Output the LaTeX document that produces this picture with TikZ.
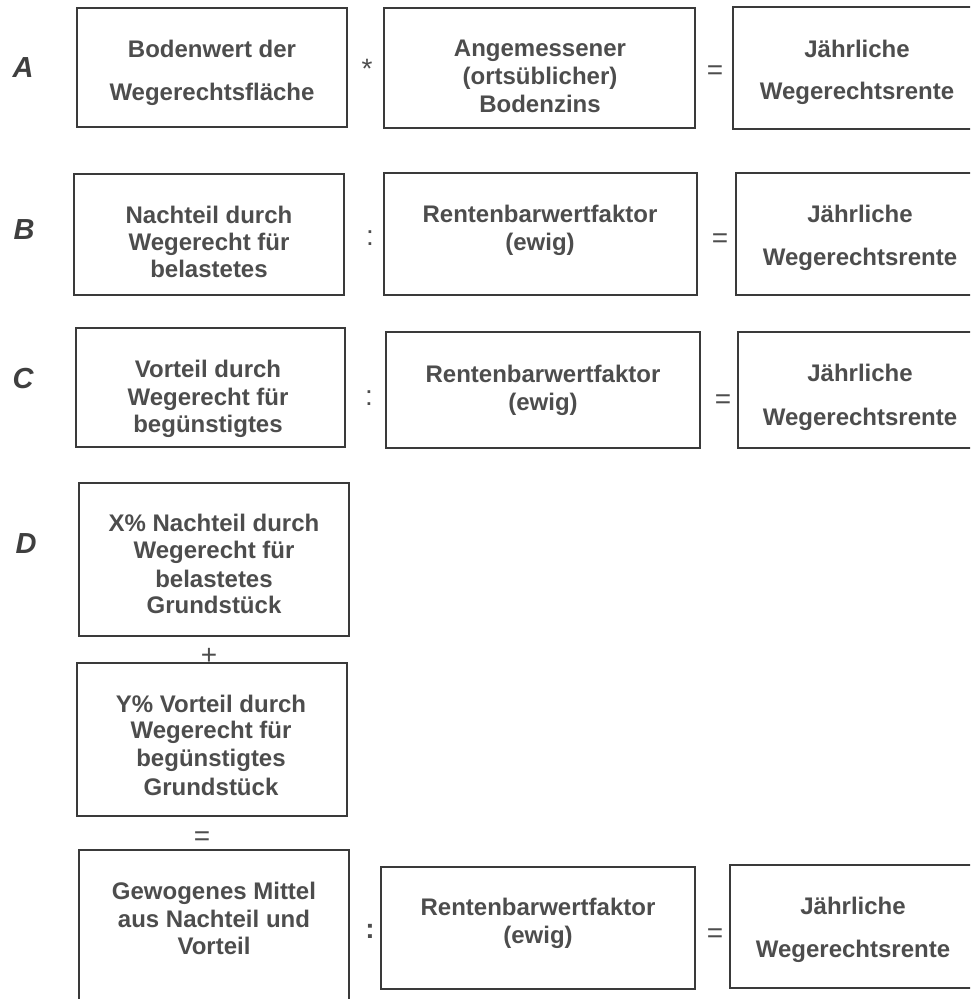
\documentclass[tikz,border=0pt]{standalone}
\usepackage{fontspec}
\setmainfont{Liberation Sans}
\begin{document}
\begin{tikzpicture}[x=1pt,y=-1pt,
  txt/.style={inner sep=0pt,anchor=base,text=tc,font=\fontsize{24}{28}\selectfont\bfseries},
  lbl/.style={inner sep=0pt,anchor=base,text=lc,font=\fontsize{29}{32}\selectfont\bfseries\itshape},
  op/.style={inner sep=0pt,anchor=base,text=tc,font=\fontsize{28}{30}\selectfont},
  opb/.style={inner sep=0pt,anchor=base,text=tc,font=\fontsize{28}{30}\selectfont\bfseries},
  boxst/.style={draw=bc,line width=1.2pt,inner sep=0pt,rectangle}]
\definecolor{tc}{HTML}{4D4D4D}
\definecolor{lc}{HTML}{3F3F3F}
\definecolor{bc}{HTML}{3A3A3A}
\useasboundingbox (0,0) rectangle (970,999);
\clip (0,0) rectangle (970,999);
\newcommand\bx[5]{\node[boxst,minimum width={#4-#2},minimum height={#5-#3}] (#1) at ({(#2+#4)/2},{(#3+#5)/2}) {};}
\newcommand\tl[4]{\node[txt] (#1) at (#2,#3) {#4};}
% boxes
\bx{a1}{77}{8}{347}{127}
\bx{a2}{384}{8}{695}{128}
\bx{a3}{733}{7}{1040}{129}
\bx{b1}{74}{174}{344}{295}
\bx{b2}{384}{173}{697}{295}
\bx{b3}{736}{173}{1040}{295}
\bx{c1}{76}{328}{345}{447}
\bx{c2}{386}{332}{700}{448}
\bx{c3}{738}{332}{1040}{448}
\bx{d1}{79}{483}{349}{636}
\bx{d2}{77}{663}{347}{816}
\bx{d3}{79}{850}{349}{1040}
\bx{d4}{381}{867}{695}{989}
\bx{d5}{730}{865}{1040}{988}
% labels
\node[lbl] (la) at (23,77) {A};
\node[lbl] (lb) at (24,239) {B};
\node[lbl] (lc) at (23,388) {C};
\node[lbl] (ld) at (26,553) {D};
% row A
\tl{a1t1}{212}{57}{Bodenwert der}
\tl{a1t2}{212}{100}{Wegerechtsfläche}
\tl{a2t1}{540}{56}{Angemessener}
\tl{a2t2}{540}{84}{(ortsüblicher)}
\tl{a2t3}{540}{112}{Bodenzins}
\tl{a3t1}{857}{57}{Jährliche}
\tl{a3t2}{857}{99}{Wegerechtsrente}
\node[op] (opa1) at (367,78) {*};
\node[op] (opa2) at (715,79) {=};
% row B
\tl{b1t1}{209}{223}{Nachteil durch}
\tl{b1t2}{209}{250}{Wegerecht für}
\tl{b1t3}{209}{277}{belastetes}
\tl{b2t1}{540}{222}{Rentenbarwertfaktor}
\tl{b2t2}{540}{250}{(ewig)}
\tl{b3t1}{860}{222}{Jährliche}
\tl{b3t2}{860}{265}{Wegerechtsrente}
\node[op] (opb1) at (370,245) {:};
\node[op] (opb2) at (720,247) {=};
% row C
\tl{c1t1}{208}{377}{Vorteil durch}
\tl{c1t2}{208}{405}{Wegerecht für}
\tl{c1t3}{208}{432}{begünstigtes}
\tl{c2t1}{543}{382}{Rentenbarwertfaktor}
\tl{c2t2}{543}{410}{(ewig)}
\tl{c3t1}{860}{381}{Jährliche}
\tl{c3t2}{860}{425}{Wegerechtsrente}
\node[op] (opc1) at (369,405) {:};
\node[op] (opc2) at (723,408) {=};
% row D
\tl{d1t1}{214}{531}{X\% Nachteil durch}
\tl{d1t2}{214}{558}{Wegerecht für}
\tl{d1t3}{214}{587}{belastetes}
\tl{d1t4}{214}{613}{Grundstück}
\node[op] (opd1) at (209,664) {+};
\tl{d2t1}{211}{712}{Y\% Vorteil durch}
\tl{d2t2}{211}{738}{Wegerecht für}
\tl{d2t3}{211}{766}{begünstigtes}
\tl{d2t4}{211}{795}{Grundstück}
\node[op] (opd2) at (202,845) {=};
\tl{d3t1}{214}{899}{Gewogenes Mittel}
\tl{d3t2}{214}{927}{aus Nachteil und}
\tl{d3t3}{214}{954}{Vorteil}
\node[opb] (opd3) at (370,938) {:};
\tl{d4t1}{538}{915}{Rentenbarwertfaktor}
\tl{d4t2}{538}{943}{(ewig)}
\node[op] (opd4) at (715,942) {=};
\tl{d5t1}{853}{914}{Jährliche}
\tl{d5t2}{853}{957}{Wegerechtsrente}
\end{tikzpicture}
\end{document}
